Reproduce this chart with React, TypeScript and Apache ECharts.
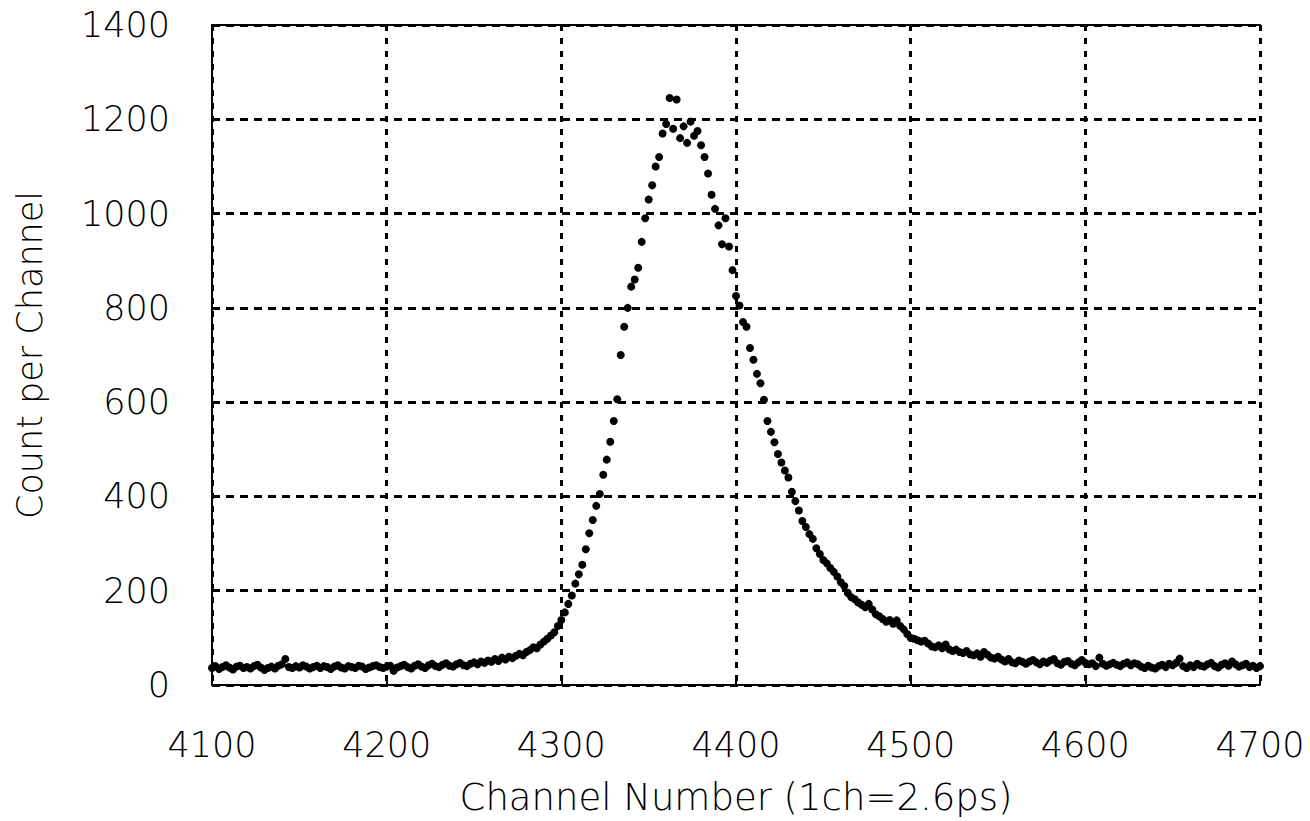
import React, { useEffect, useRef } from "react";
import * as echarts from "echarts";

// Channel numbers start at 4100 and go in steps of 2 channels
const startChannel = 4100;
const channelStep = 2;

// 4100 .. 4250
const baselineLeft = [
  36, 40, 34, 38, 42, 37, 33, 39, 41, 36, 38, 35, 40, 43, 37, 32, 36, 39, 35, 41,
  44, 55, 38, 36, 40, 37, 42, 39, 35, 38, 41, 36, 40, 38, 34, 39, 42, 37, 35, 40,
  38, 36, 41, 39, 34, 37, 40, 42, 38, 36, 39, 41, 30, 37, 40, 43, 38, 35, 41, 44,
  39, 36, 42, 45, 40, 38, 43, 46, 41, 39, 44, 47, 42, 40, 45, 48,
];
// 4252 .. 4330
const risingEdge = [
  44, 50, 47, 52, 49, 55, 51, 58, 54, 60, 57, 62, 66, 63, 70, 74, 80, 78, 86, 92,
  98, 105, 112, 125, 138, 154, 172, 190, 215, 235, 255, 288, 322, 350, 380, 405, 446, 478, 516, 560,
];
// 4332 .. 4420
const peakRegion = [
  606, 700, 760, 800, 845, 860, 885, 940, 990, 1030, 1060, 1100, 1120, 1170, 1190, 1245, 1180, 1242, 1160, 1185,
  1150, 1195, 1165, 1175, 1145, 1120, 1085, 1040, 1010, 975, 935, 990, 930, 880, 825, 805, 770, 760, 715, 690,
  660, 640, 605, 560, 537,
];
// 4422 .. 4550
const fallingTail = [
  515, 490, 472, 455, 440, 410, 390, 370, 348, 335, 320, 310, 290, 278, 265, 258, 248, 240, 230, 218,
  210, 195, 186, 182, 175, 170, 165, 172, 160, 150, 146, 140, 134, 138, 130, 137, 125, 118, 108, 100,
  98, 95, 92, 94, 88, 82, 80, 84, 78, 86, 76, 72, 75, 70, 68, 72, 65, 63, 67, 60,
  70, 64, 58, 56, 60,
];
// 4552 .. 4700
const baselineRight = [
  54, 50, 55, 48, 46, 52, 49, 45, 50, 53, 48, 44, 50, 47, 52, 55, 46, 43, 49, 51,
  45, 42, 48, 53, 47, 44, 46, 40, 58, 45, 41, 44, 47, 43, 40, 45, 48, 42, 46, 44,
  39, 36, 41, 37, 35, 40, 43, 38, 45, 42, 47, 56, 40, 36, 42, 38, 45, 41, 39, 44,
  47, 40, 37, 43, 46, 41, 50, 44, 39, 42, 45, 38, 41, 36, 40,
];

const xTicks = [4100, 4200, 4300, 4400, 4500, 4600, 4700];
const yTicks = [0, 200, 400, 600, 800, 1000, 1200, 1400];

const counts = [...baselineLeft, ...risingEdge, ...peakRegion, ...fallingTail, ...baselineRight];
const points = counts.map((c, i) => [startChannel + i * channelStep, c]);

const FONT = "DejaVu Sans";

export default function App() {
  const ref = useRef<HTMLDivElement>(null);
  useEffect(() => {
    if (!ref.current) return;
    const chart = echarts.init(ref.current, null, { renderer: "svg" });
    const dashH = { color: "#000", width: 3, type: [8, 6] as any };
    const plain = (v: number) => String(v);
    chart.setOption({
      animation: false,
      backgroundColor: "#fff",
      grid: { left: 212, right: 50, top: 25, bottom: 131 },
      xAxis: [
        {
          type: "value",
          min: xTicks[0],
          max: xTicks[xTicks.length - 1],
          interval: 100,
          position: "bottom",
          name: "Channel Number (1ch=2.6ps)",
          nameLocation: "middle",
          nameGap: 94,
          nameTextStyle: { fontFamily: FONT, fontSize: 37, fontWeight: 200, color: "#000" },
          axisLine: { show: true, onZero: false, lineStyle: { color: "#000", width: 2 } },
          axisTick: { show: true, inside: true, length: 5, lineStyle: { color: "#000", width: 2 } },
          axisLabel: { fontFamily: FONT, fontSize: 35, fontWeight: 200, color: "#000", margin: 42, formatter: plain },
          splitLine: { show: true, lineStyle: { color: "#000", width: 3, type: [6, 7] as any } },
        },
        {
          type: "value",
          min: xTicks[0],
          max: xTicks[xTicks.length - 1],
          interval: 100,
          position: "top",
          axisLine: { show: true, onZero: false, lineStyle: { color: "#000", width: 2 } },
          axisTick: { show: false },
          axisLabel: { show: false },
          splitLine: { show: false },
        },
      ],
      yAxis: {
        type: "value",
        min: yTicks[0],
        max: yTicks[yTicks.length - 1],
        interval: 200,
        name: "Count per Channel",
        nameLocation: "middle",
        nameGap: 165,
        nameRotate: 90,
        nameTextStyle: { fontFamily: FONT, fontSize: 35, fontWeight: 200, color: "#000" },
        axisLine: { show: true, onZero: false, lineStyle: { color: "#000", width: 2 } },
        axisTick: { show: true, inside: true, length: 5, lineStyle: { color: "#000", width: 2 } },
        axisLabel: { fontFamily: FONT, fontSize: 35, fontWeight: 200, color: "#000", margin: 42, formatter: plain },
        splitLine: { show: true, lineStyle: dashH },
      },
      series: [
        {
          type: "scatter",
          data: points,
          symbol: "circle",
          symbolSize: 8,
          itemStyle: { color: "#000", opacity: 1 },
          xAxisIndex: 0,
          yAxisIndex: 0,
        },
      ],
    });
    return () => chart.dispose();
  }, []);
  return (
    <div
      ref={ref}
      style={{ position: "fixed", left: 0, top: 0, width: 1310, height: 821, background: "#fff" }}
    />
  );
}
